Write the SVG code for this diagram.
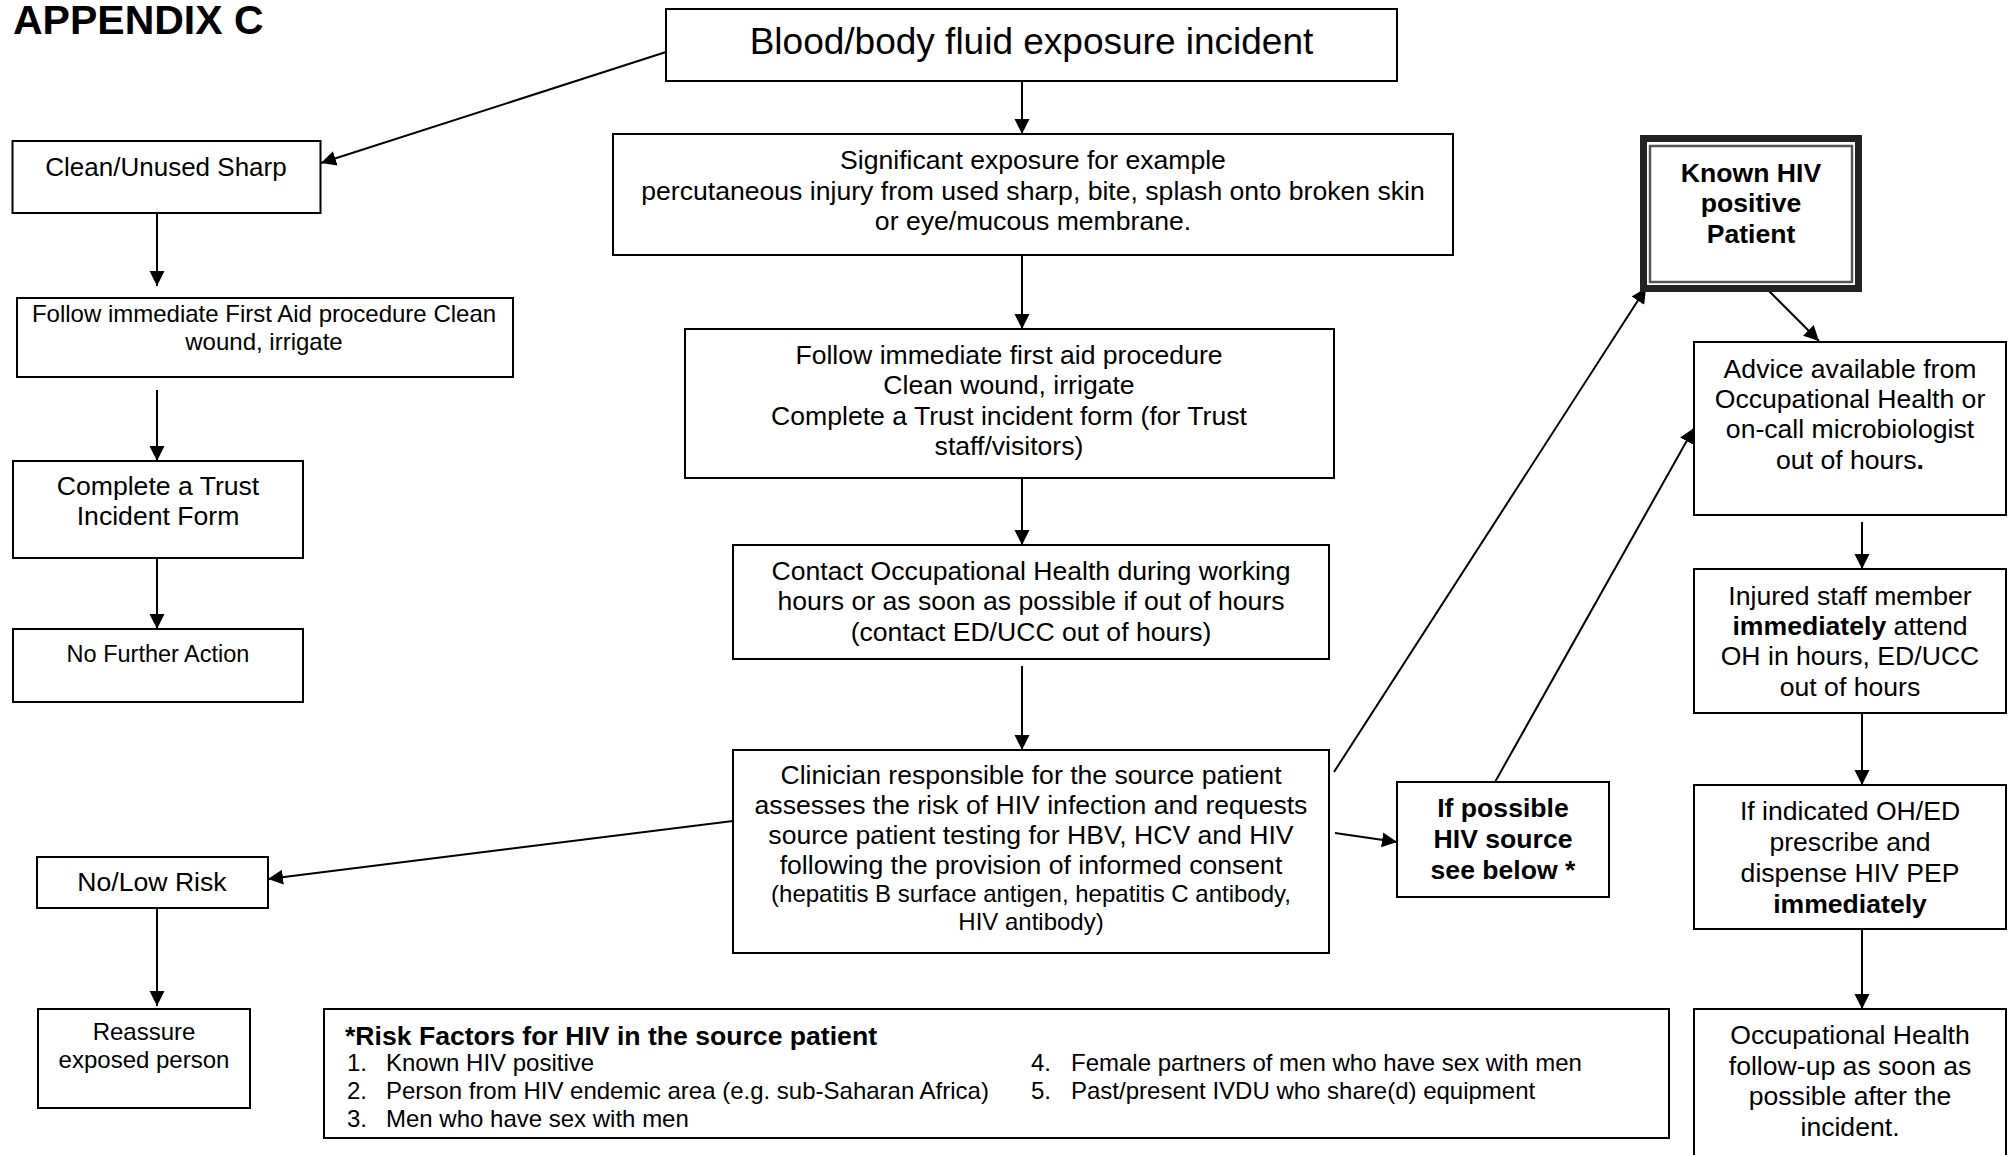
<svg xmlns="http://www.w3.org/2000/svg" width="2011" height="1155" viewBox="0 0 2011 1155">
<style>
.box{fill:#fff;stroke:#000;stroke-width:2}
text{font-family:"Liberation Sans",Arial,sans-serif;font-size:26.6px;fill:#000}
.c{text-anchor:middle}
.s{font-size:24px}
.b{font-weight:bold}
.conn line{stroke:#000;stroke-width:2;marker-end:url(#ah)}
</style>
<defs>
<marker id="ah" markerUnits="userSpaceOnUse" markerWidth="16" markerHeight="16" refX="15" refY="7.5" orient="auto">
<path d="M0,0 L15,7.5 L0,15 z" fill="#000"/>
</marker>
</defs>
<rect x="0" y="0" width="2011" height="1155" fill="#fff"/>
<text x="13" y="34" class="b" style="font-size:41px">APPENDIX C</text>

<g id="conn" class="conn">
<line x1="666" y1="52" x2="321" y2="163"/>
<line x1="1022" y1="81" x2="1022" y2="134"/>
<line x1="1022" y1="256" x2="1022" y2="329"/>
<line x1="1022" y1="478" x2="1022" y2="545"/>
<line x1="1022" y1="666" x2="1022" y2="750"/>
<line x1="157" y1="213" x2="157" y2="286"/>
<line x1="157" y1="390" x2="157" y2="461"/>
<line x1="157" y1="558" x2="157" y2="629"/>
<line x1="733" y1="821" x2="268" y2="879"/>
<line x1="157" y1="908" x2="157" y2="1006"/>
<line x1="1335" y1="833" x2="1397" y2="842"/>
<line x1="1334" y1="772" x2="1646" y2="288"/>
<line x1="1495" y1="782" x2="1694" y2="428"/>
<line x1="1767" y1="289" x2="1819" y2="341"/>
<line x1="1862" y1="522" x2="1862" y2="569"/>
<line x1="1862" y1="713" x2="1862" y2="785"/>
<line x1="1862" y1="929" x2="1862" y2="1009"/>
</g>

<g id="blood">
<rect class="box" x="666" y="9" width="731" height="72"/>
<text class="c" x="1031.5" y="54" style="font-size:37px">Blood/body fluid exposure incident</text>
</g>

<g id="clean-sharp">
<rect class="box" x="12.5" y="141" width="308" height="72"/>
<text class="c" x="166" y="176" style="font-size:26px">Clean/Unused Sharp</text>
</g>

<g id="first-aid-left">
<rect class="box" x="17" y="298" width="496" height="79"/>
<text class="c s" x="264" y="322">Follow immediate First Aid procedure Clean</text>
<text class="c s" x="264" y="350">wound, irrigate</text>
</g>

<g id="trust-form-left">
<rect class="box" x="13" y="461" width="290" height="97"/>
<text class="c" x="158" y="495">Complete a Trust</text>
<text class="c" x="158" y="525">Incident Form</text>
</g>

<g id="no-further">
<rect class="box" x="13" y="629" width="290" height="73"/>
<text class="c" x="158" y="662" style="font-size:23.5px">No Further Action</text>
</g>

<g id="significant">
<rect class="box" x="613" y="134" width="840" height="121"/>
<text class="c" x="1033" y="169">Significant exposure for example</text>
<text class="c" x="1033" y="200">percutaneous injury from used sharp, bite, splash onto broken skin</text>
<text class="c" x="1033" y="230">or eye/mucous membrane.</text>
</g>

<g id="first-aid-center">
<rect class="box" x="685" y="329" width="649" height="149"/>
<text class="c" x="1009" y="364">Follow immediate first aid procedure</text>
<text class="c" x="1009" y="394">Clean wound, irrigate</text>
<text class="c" x="1009" y="425">Complete a Trust incident form (for Trust</text>
<text class="c" x="1009" y="455">staff/visitors)</text>
</g>

<g id="contact-oh">
<rect class="box" x="733" y="545" width="596" height="114"/>
<text class="c" x="1031" y="580">Contact Occupational Health during working</text>
<text class="c" x="1031" y="610">hours or as soon as possible if out of hours</text>
<text class="c" x="1031" y="641">(contact ED/UCC out of hours)</text>
</g>

<g id="clinician">
<rect class="box" x="733" y="750" width="596" height="203"/>
<text class="c" x="1031" y="784">Clinician responsible for the source patient</text>
<text class="c" x="1031" y="814">assesses the risk of HIV infection and requests</text>
<text class="c" x="1031" y="844">source patient testing for HBV, HCV and HIV</text>
<text class="c" x="1031" y="874">following the provision of informed consent</text>
<text class="c s" x="1031" y="902">(hepatitis B surface antigen, hepatitis C antibody,</text>
<text class="c s" x="1031" y="930">HIV antibody)</text>
</g>

<g id="no-low-risk">
<rect class="box" x="37" y="857" width="231" height="51"/>
<text class="c" x="152" y="891">No/Low Risk</text>
</g>

<g id="reassure">
<rect class="box" x="38" y="1009" width="212" height="99"/>
<text class="c s" x="144" y="1040">Reassure</text>
<text class="c s" x="144" y="1068">exposed person</text>
</g>

<g id="risk-factors">
<rect class="box" x="324" y="1009" width="1345" height="129"/>
<text class="b" x="345" y="1045">*Risk Factors for HIV in the source patient</text>
<text class="s" x="347" y="1071">1.</text>
<text class="s" x="386" y="1071">Known HIV positive</text>
<text class="s" x="347" y="1099">2.</text>
<text class="s" x="386" y="1099">Person from HIV endemic area (e.g. sub-Saharan Africa)</text>
<text class="s" x="347" y="1127">3.</text>
<text class="s" x="386" y="1127">Men who have sex with men</text>
<text class="s" x="1031" y="1071">4.</text>
<text class="s" x="1071" y="1071">Female partners of men who have sex with men</text>
<text class="s" x="1031" y="1099">5.</text>
<text class="s" x="1071" y="1099">Past/present IVDU who share(d) equipment</text>
</g>

<g id="if-possible">
<rect class="box" x="1397" y="782" width="212" height="115"/>
<text class="c b" x="1503" y="817">If possible</text>
<text class="c b" x="1503" y="848">HIV source</text>
<text class="c b" x="1503" y="879">see below *</text>
</g>

<g id="known-hiv">
<rect x="1643.5" y="138.5" width="215" height="150" fill="#fff" stroke="#222" stroke-width="7"/>
<rect x="1650" y="146" width="202" height="136" fill="none" stroke="#555" stroke-width="2.5"/>
<text class="c b" x="1751" y="182">Known HIV</text>
<text class="c b" x="1751" y="212">positive</text>
<text class="c b" x="1751" y="243">Patient</text>
</g>

<g id="advice">
<rect class="box" x="1694" y="342" width="312" height="173"/>
<text class="c" x="1850" y="378">Advice available from</text>
<text class="c" x="1850" y="408">Occupational Health or</text>
<text class="c" x="1850" y="438">on-call microbiologist</text>
<text class="c" x="1850" y="469">out of hours<tspan class="b">.</tspan></text>
</g>

<g id="injured">
<rect class="box" x="1694" y="569" width="312" height="144"/>
<text class="c" x="1850" y="605">Injured staff member</text>
<text class="c" x="1850" y="635"><tspan class="b">immediately</tspan> attend</text>
<text class="c" x="1850" y="665">OH in hours, ED/UCC</text>
<text class="c" x="1850" y="696">out of hours</text>
</g>

<g id="pep">
<rect class="box" x="1694" y="785" width="312" height="144"/>
<text class="c" x="1850" y="820">If indicated OH/ED</text>
<text class="c" x="1850" y="851">prescribe and</text>
<text class="c" x="1850" y="882">dispense HIV PEP</text>
<text class="c b" x="1850" y="913">immediately</text>
</g>

<g id="follow-up">
<rect class="box" x="1694" y="1009" width="312" height="160"/>
<text class="c" x="1850" y="1044">Occupational Health</text>
<text class="c" x="1850" y="1075">follow-up as soon as</text>
<text class="c" x="1850" y="1105">possible after the</text>
<text class="c" x="1850" y="1136">incident.</text>
</g>
</svg>
